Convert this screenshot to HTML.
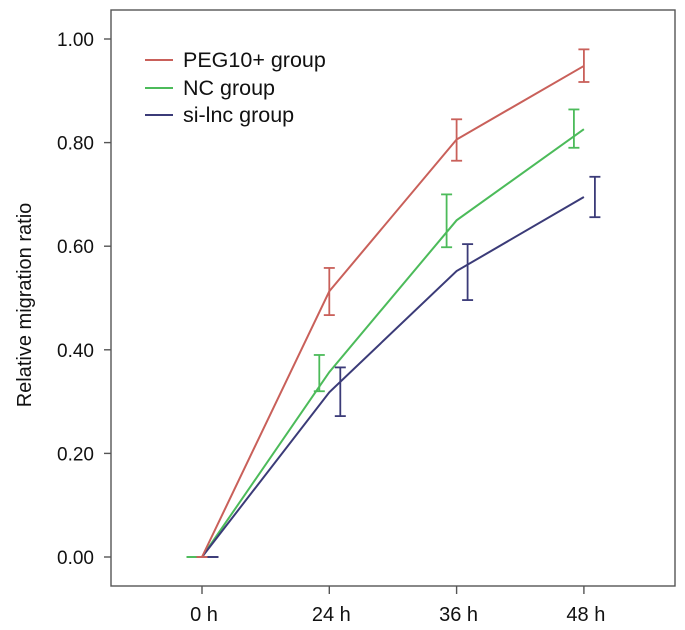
<!DOCTYPE html>
<html><head><meta charset="utf-8"><style>
body{margin:0;background:#fff}
svg{display:block;font-family:"Liberation Sans",sans-serif}
</style></head><body>
<svg id="chart" width="685" height="630">
<rect x="111" y="10" width="564" height="576" fill="none" stroke="#555" stroke-width="1.4"/>
<text x="0" y="0" transform="translate(31,305) rotate(-90)" text-anchor="middle" font-size="20" fill="#111">Relative migration ratio</text>
<g id="axes"></g><g id="series"></g>
<g font-size="21.5" fill="#111">
<line x1="145" y1="60" x2="173" y2="60" stroke="#c9605a" stroke-width="2"/>
<text x="183" y="67">PEG10+ group</text>
<line x1="145" y1="88" x2="173" y2="88" stroke="#4cbb5a" stroke-width="2"/>
<text x="183" y="95">NC group</text>
<line x1="145" y1="115" x2="173" y2="115" stroke="#3b3b78" stroke-width="2"/>
<text x="183" y="122">si-lnc group</text>
</g>
</svg>
<script>
const categories=["0 h","24 h","36 h","48 h"];
const yTicks=[0,0.2,0.4,0.6,0.8,1.0];
const yTickLabels=["0.00","0.20","0.40","0.60","0.80","1.00"];
const pegMean=[0,0.513,0.806,0.948];
const pegLow=[0,0.467,0.765,0.917];
const pegHigh=[0,0.558,0.845,0.98];
const ncMean=[0,0.357,0.65,0.826];
const ncLow=[0,0.32,0.598,0.79];
const ncHigh=[0,0.39,0.70,0.864];
const siMean=[0,0.318,0.552,0.695];
const siLow=[0,0.272,0.496,0.656];
const siHigh=[0,0.366,0.604,0.734];
const NS="http://www.w3.org/2000/svg";
const xs=i=>202+i*127.3;
const ys=v=>557-v*518;
function mk(t,a,p){const e=document.createElementNS(NS,t);for(const k in a)e.setAttribute(k,a[k]);p.appendChild(e);return e;}
const ax=document.getElementById('axes');
yTicks.forEach((v,i)=>{
 const l=mk('line',{x1:104,x2:111,y1:ys(v),y2:ys(v),stroke:'#555','stroke-width':1.4},ax);
 
 
 const t=mk('text',{x:94,y:ys(v)+7,'text-anchor':'end','font-size':19,fill:'#111'},ax);
 t.textContent=yTickLabels[i];
 
 
});
categories.forEach((c,i)=>{
 const l=mk('line',{x1:xs(i),x2:xs(i),y1:586,y2:594,stroke:'#555','stroke-width':1.4},ax);
 
 
 const t=mk('text',{x:xs(i)+2,y:621,'text-anchor':'middle','font-size':20,fill:'#111'},ax);
 t.textContent=c;
 
 
});
const sg=document.getElementById('series');
[[ncMean,ncLow,ncHigh,'#4cbb5a',-10,'nc'],[siMean,siLow,siHigh,'#3b3b78',11,'si'],[pegMean,pegLow,pegHigh,'#c9605a',0,'peg10']].forEach(s=>{
 const [m,lo,hi,col,off,nm]=s;
 const p=mk('polyline',{points:m.map((v,i)=>xs(i)+','+ys(v)).join(' '),fill:'none',stroke:col,'stroke-width':2},sg);
 
 
 m.forEach((v,i)=>{
  const x=xs(i)+off;
  const g=mk('g',{stroke:col,'stroke-width':1.8},sg);
  
  
  mk('line',{x1:x,x2:x,y1:ys(lo[i]),y2:ys(hi[i])},g);
  mk('line',{x1:x-5.5,x2:x+5.5,y1:ys(lo[i]),y2:ys(lo[i])},g);
  mk('line',{x1:x-5.5,x2:x+5.5,y1:ys(hi[i]),y2:ys(hi[i])},g);
 });
});
</script>
</body></html>
